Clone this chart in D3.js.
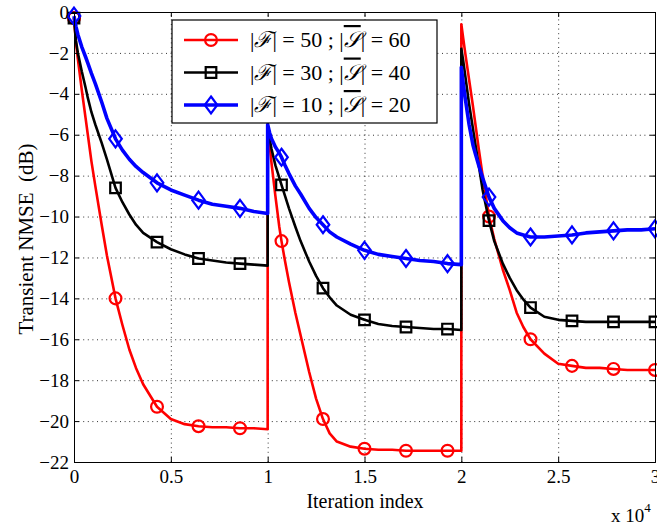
<!DOCTYPE html>
<html>
<head>
<meta charset="utf-8">
<script src="https://cdn.jsdelivr.net/npm/d3@7"></script>
<style>
  body { margin: 0; background: #fff; }
  svg { display: block; }
  text { font-family: "Liberation Serif", "Times New Roman", serif; }
</style>
</head>
<body>
<svg id="chart" width="657" height="527"></svg>
<script>
// sample offsets inside each 10000-iteration block (the system restarts every 10^4)
var offsets = [0, 100, 200, 400, 600, 714, 900, 1100, 1429, 1700, 2143, 2500, 2857,
  3200, 3571, 4286, 5000, 5714, 6429, 7143, 7857, 8571, 9286, 10000];
var restarts = [0, 10000, 20000];
var markerIter = [0, 2143, 4286, 6429, 8571, 10714, 12857, 15000, 17143, 19286,
  21429, 23571, 25714, 27857, 30000];

// NMSE in dB (one row per block)
var nmseF50 = [
  -0.3, -1.5, -2.3, -3.8, -5.2, -6.0, -7.3, -8.5, -10.4, -11.9, -14.0, -15.3, -16.5,
  -17.4, -18.2, -19.3, -19.9, -20.15, -20.25, -20.3, -20.3, -20.35, -20.35, -20.4,
  -5.6, -6.5, -7.4, -9.0, -10.5, -11.2, -12.2, -13.2, -14.7, -15.8, -17.6, -18.9, -19.9,
  -20.6, -21.0, -21.25, -21.35, -21.4, -21.4, -21.45, -21.45, -21.45, -21.45, -21.45,
  -0.6, -1.3, -2.0, -3.3, -4.6, -5.4, -6.7, -8.0, -10.0, -11.1, -12.6, -13.6, -14.7,
  -15.4, -16.0, -16.7, -17.2, -17.3, -17.4, -17.4, -17.45, -17.5, -17.5, -17.5
];
var nmseF30 = [
  -0.3, -1.4, -2.0, -2.9, -3.7, -4.2, -4.9, -5.5, -6.4, -7.2, -8.6, -9.3, -9.9,
  -10.4, -10.8, -11.25, -11.6, -11.85, -12.05, -12.15, -12.25, -12.3, -12.35, -12.4,
  -5.7, -6.2, -6.7, -7.5, -8.1, -8.45, -9.0, -9.6, -10.5, -11.2, -12.2, -12.9, -13.5,
  -13.95, -14.35, -14.8, -15.05, -15.25, -15.35, -15.4, -15.45, -15.5, -15.5, -15.55,
  -1.8, -2.4, -3.1, -4.5, -5.7, -6.4, -7.5, -8.7, -10.2, -11.2, -12.3, -13.0, -13.6,
  -14.05, -14.45, -14.9, -15.05, -15.1, -15.15, -15.15, -15.15, -15.15, -15.15, -15.15
];
var nmseF10 = [
  -0.2, -0.7, -1.1, -1.7, -2.2, -2.5, -3.0, -3.5, -4.4, -5.2, -6.2, -6.75, -7.2,
  -7.55, -7.85, -8.35, -8.7, -8.95, -9.2, -9.4, -9.5, -9.6, -9.75, -9.85,
  -5.5, -5.9, -6.2, -6.6, -6.9, -7.1, -7.5, -7.9, -8.5, -8.9, -9.6, -10.05, -10.4,
  -10.75, -11.0, -11.35, -11.65, -11.85, -11.95, -12.05, -12.15, -12.2, -12.3, -12.35,
  -2.7, -3.5, -4.2, -5.5, -6.5, -6.9, -7.5, -8.1, -9.05, -9.6, -10.2, -10.55, -10.8,
  -10.9, -11.0, -11.0, -10.95, -10.9, -10.8, -10.75, -10.7, -10.65, -10.65, -10.6
];

var xTicks = [0, 5000, 10000, 15000, 20000, 25000, 30000];
var xTickLabels = ["0", "0.5", "1", "1.5", "2", "2.5", "3"];
var yTicks = d3.range(0, -23, -2);

var series = [
  { name: ["50", "60"], values: nmseF50, color: "#ff0000", marker: "circle", width: 2.6 },
  { name: ["30", "40"], values: nmseF30, color: "#000000", marker: "square", width: 2.6 },
  { name: ["10", "20"], values: nmseF10, color: "#0000ff", marker: "diamond", width: 3.6 }
];

var iteration = restarts.flatMap((s) => offsets.map((o) => s + o));

var margin = { top: 12, right: 2, bottom: 65, left: 74 };
var W = 657, H = 527;
var w = W - margin.left - margin.right;
var h = H - margin.top - margin.bottom;

var svg = d3.select("#chart");
var g = svg.append("g").attr("transform", `translate(${margin.left},${margin.top})`);

var x = d3.scaleLinear().domain([0, 30000]).range([0, w]);
var y = d3.scaleLinear().domain([-22, 0]).range([h, 0]);

// dotted grid
g.append("g")
  .attr("class", "grid")
  .attr("transform", `translate(0,${h})`)
  .call(d3.axisBottom(x).tickValues(xTicks).tickSize(-h).tickFormat(""));
g.append("g")
  .attr("class", "grid")
  .call(d3.axisLeft(y).tickValues(yTicks).tickSize(-w).tickFormat(""));
g.selectAll(".grid .domain").remove();
g.selectAll(".grid line")
  .attr("stroke", "#000")
  .attr("stroke-width", 0.8)
  .attr("stroke-dasharray", "1,3.6");

// curves
var line = d3.line()
  .x((d) => x(d[0]))
  .y((d) => y(d[1]));

function markerPath(type) {
  if (type === "circle") return d3.symbol(d3.symbolCircle, 110)();
  if (type === "square") return "M-5.3,-5.3H5.3V5.3H-5.3Z";
  return "M0,-8.5L6.3,0L0,8.5L-6.3,0Z";
}

series.forEach(function (s) {
  var pts = iteration.map((it, i) => [it, s.values[i]]);
  g.append("path")
    .datum(pts)
    .attr("fill", "none")
    .attr("stroke", s.color)
    .attr("stroke-width", s.width)
    .attr("stroke-linejoin", "round")
    .attr("d", line);

  var seen = {};
  var mk = pts.filter(function (p) {
    if (markerIter.indexOf(p[0]) < 0 || seen[p[0]]) return false;
    seen[p[0]] = true;
    return true;
  });
  g.selectAll(null)
    .data(mk)
    .join("path")
    .attr("transform", (d) => `translate(${x(d[0])},${y(d[1])})`)
    .attr("d", markerPath(s.marker))
    .attr("fill", "none")
    .attr("stroke", s.color)
    .attr("stroke-width", 2.2);
});

// axes, ticks pointing inwards on all four sides
function styleAxis(sel) {
  sel.attr("font-family", null);
  sel.select(".domain").attr("stroke", "#000").attr("stroke-width", 1);
  sel.selectAll(".tick line").attr("stroke", "#000");
  sel.selectAll("text")
    .style("font-family", "'Liberation Serif', serif")
    .attr("font-size", 19)
    .attr("fill", "#000");
}
g.append("g")
  .attr("transform", `translate(0,${h})`)
  .call(d3.axisBottom(x).tickValues(xTicks).tickSize(-5).tickPadding(8)
    .tickFormat((d, i) => xTickLabels[i]))
  .call(styleAxis);
g.append("g")
  .call(d3.axisLeft(y).tickValues(yTicks).tickSize(-5).tickPadding(5))
  .call(styleAxis);
g.append("g")
  .call(d3.axisTop(x).tickValues(xTicks).tickSize(-5).tickFormat(""))
  .call(styleAxis);
g.append("g")
  .attr("transform", `translate(${w},0)`)
  .call(d3.axisRight(y).tickValues(yTicks).tickSize(-5).tickFormat(""))
  .call(styleAxis);

// axis titles
svg.append("text")
  .attr("x", 365)
  .attr("y", 508)
  .attr("text-anchor", "middle")
  .attr("font-size", 20)
  .text("Iteration index");

var exp = svg.append("text")
  .attr("x", 611)
  .attr("y", 522)
  .attr("font-size", 19);
exp.append("tspan").text("x 10");
exp.append("tspan").attr("dy", -10).attr("font-size", 13).text("4");

svg.append("text")
  .attr("transform", "translate(33,239) rotate(-90)")
  .attr("text-anchor", "middle")
  .attr("font-size", 21)
  .text("Transient NMSE\u00a0\u00a0(dB)");

// legend
var lg = svg.append("g").attr("transform", "translate(172,20)");
lg.append("rect")
  .attr("width", 265)
  .attr("height", 103)
  .attr("fill", "#fff")
  .attr("stroke", "#000")
  .attr("stroke-width", 1.2);

series.forEach(function (s, i) {
  var ry = 20 + i * 32.5;
  lg.append("line")
    .attr("x1", 12).attr("x2", 66)
    .attr("y1", ry).attr("y2", ry)
    .attr("stroke", s.color)
    .attr("stroke-width", s.width);
  lg.append("path")
    .attr("transform", `translate(39,${ry})`)
    .attr("d", markerPath(s.marker))
    .attr("fill", "none")
    .attr("stroke", s.color)
    .attr("stroke-width", 2.2);
  var t = lg.append("text")
    .attr("x", 78)
    .attr("y", ry + 7)
    .attr("font-size", 22)
    .attr("xml:space", "preserve");
  t.append("tspan").text("|");
  t.append("tspan").attr("font-style", "italic").text("ℱ");
  t.append("tspan").text("| = " + s.name[0] + " ; |");
  t.append("tspan").attr("font-style", "italic").attr("text-decoration", "overline").text("𝒮");
  t.append("tspan").text("| = " + s.name[1]);
});
</script>
</body>
</html>
